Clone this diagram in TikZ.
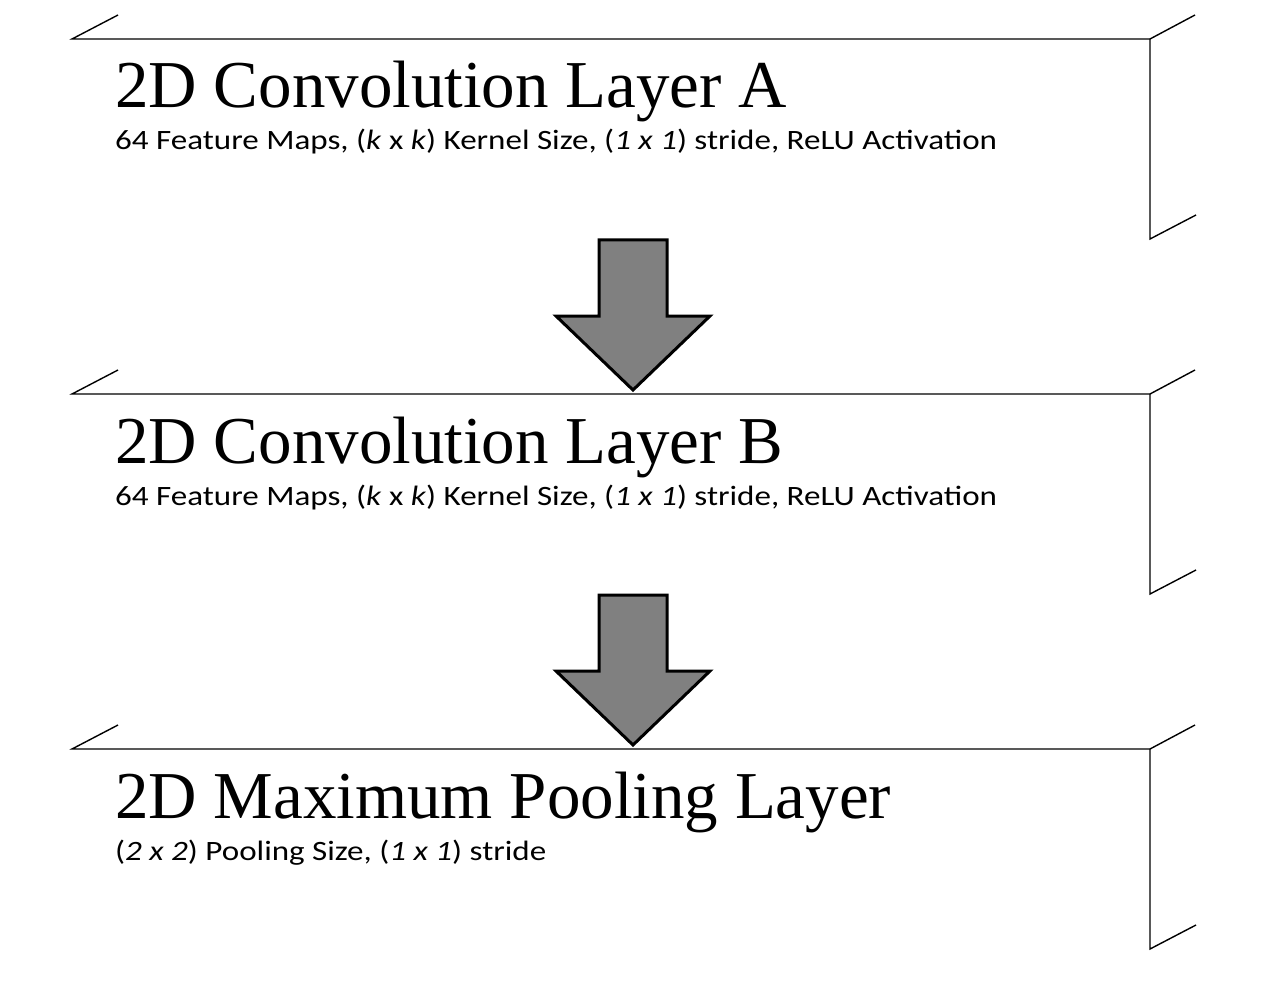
\documentclass[tikz,border=0pt]{standalone}
\usepackage{fontspec}
\setmainfont{Liberation Serif}
\newfontfamily\subfont{Carlito}
\usetikzlibrary{positioning}
\def\boxright{1150}
\newcommand\widetext[1]{\scalebox{1.18}[1]{#1}}

\tikzset{
  edge/.style={line width=1.4pt, black},
  flow/.style={line width=3pt, black, fill=black!50, line join=miter},
  title/.style={anchor=base west, inner sep=0pt, font=\fontsize{67}{70}\selectfont},
  detail/.style={anchor=base west, inner sep=0pt, font=\subfont\fontsize{28}{32}\selectfont}
}

\begin{document}
\begin{tikzpicture}[x=1pt, y=-1pt]
    \useasboundingbox (0,0) rectangle (1261,987);
    % Layer outlines.
    \foreach \t in {39, 394, 749} {
      \draw[edge] (118,\t-24) -- (72,\t) -- (\boxright,\t) -- (1195,\t-24);
      \draw[edge] (\boxright,\t) -- (\boxright,\t+200) -- (1196,\t+176);
    }
    % Layer texts.
    \node[title] (convA) at (115,108) {2D Convolution Layer A};
    \node[detail] (convAinfo) at (115,150) {\widetext{64 Feature Maps, (\textit{k} x \textit{k}) Kernel Size, (\textit{1 x 1}) stride, ReLU Activation}};
    \node[title] (convB) at (115,463) {2D Convolution Layer B};
    \node[detail] (convBinfo) at (115,505) {\widetext{64 Feature Maps, (\textit{k} x \textit{k}) Kernel Size, (\textit{1 x 1}) stride, ReLU Activation}};
    \node[title] (pool) at (115,818) {2D Maximum Pooling Layer};
    \node[detail] (poolinfo) at (115,860) {\widetext{(\textit{2 x 2}) Pooling Size, (\textit{1 x 1}) stride}};
    % Flow arrows.
    \foreach \t in {39, 394} {
      \draw[flow] (599,\t+201) -- (667,\t+201) -- (667,\t+277) -- (710,\t+277)
        -- (633,\t+351) -- (556,\t+277) -- (599,\t+277) -- cycle;
    }
\end{tikzpicture}
\end{document}
